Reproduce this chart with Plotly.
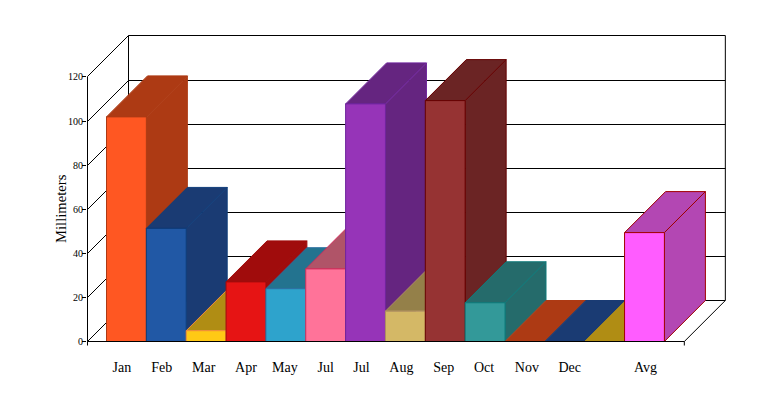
import plotly.graph_objects as go

# ---- data
categories = ["Jan", "Feb", "Mar", "Apr", "May", "Jul", "Jul", "Aug", "Sep", "Oct", "Nov", "Dec", "", "Avg"]
rainfall = [102.1, 51.4, 4.9, 27.1, 24.0, 33.0, 108.0, 13.8, 109.5, 17.6, 0, 0, 0, 49.5]
y_ticks = [0, 20, 40, 60, 80, 100, 120]
y_title = "Millimeters"

# ---- colours: front, top/side, outline
front_colors = ["#FF5722", "#2158A5", "#FFC915", "#E61414", "#2EA3CC", "#FF7399", "#9634B8", "#D4B866", "#963333", "#339999",
                "#FF5722", "#2158A5", "#FFC915", "#FF5CFF"]
top_colors = ["#AD3A14", "#1A3B73", "#B08D14", "#A00C0C", "#23738F", "#B05468", "#652580", "#948049", "#6B2424", "#256B6B",
              "#AD3A14", "#1A3B73", "#B08D14", "#B347B3"]
edge_colors = ["#AD3A14", "#0F3D7A", "#F08C3C", "#A00C0C", "#2D6FA0", "#D0305C", "#6F259C", "#B09060", "#660000", "#0F7A7A",
               "#AD3A14", "#1A3B73", "#B08D14", "#A00000"]

# ---- geometry (the page body adds an 8px margin around the figure)
PAGE_MARGIN = 8
FIG_W, FIG_H = 775 - PAGE_MARGIN, 395 - PAGE_MARGIN
PX_X = 39.85        # pixels per category slot
PX_Y = 2.2          # pixels per millimetre
DEPTH_PX = 41
DX = DEPTH_PX / PX_X
DY = DEPTH_PX / PX_Y
PLOT_L, PLOT_R, PLOT_T, PLOT_B = 79, 722, 22, 342
BASE_Y = 333.5
X0 = -0.5 - 19.5 / PX_X
X1 = X0 + (PLOT_R - PLOT_L) / PX_X
Y1 = (BASE_Y - PLOT_T) / PX_Y
Y0 = (BASE_Y - PLOT_B) / PX_Y
AXIS_L = -0.5 - 19.0 / PX_X
AXIS_R = 14.0
AXIS_T = 120.45

LABEL_NUDGE_PX = [-4.5, -4.5, -2.5, 0, -1, 0, -4, -4, -1.5, -1, 2, 5, 0, 1]

fig = go.Figure()


def line(xs, ys, width=1):
    fig.add_trace(go.Scatter(x=xs, y=ys, mode="lines", line=dict(color="black", width=width),
                             hoverinfo="skip", showlegend=False))


def poly(xs, ys, fill, edge):
    fig.add_trace(go.Scatter(x=xs + xs[:1], y=ys + ys[:1], mode="lines", fill="toself", fillcolor=fill,
                             line=dict(color=edge, width=1), hoverinfo="skip", showlegend=False))


# back wall, floor and left wall
line([AXIS_L + DX, AXIS_R + DX, AXIS_R + DX, AXIS_L + DX, AXIS_L + DX],
     [AXIS_T + DY, AXIS_T + DY, DY, DY, AXIS_T + DY])
for t in y_ticks[1:-1]:
    line([AXIS_L, AXIS_L + DX, AXIS_R + DX], [t, t + DY, t + DY])
line([AXIS_L, AXIS_L + DX], [AXIS_T, AXIS_T + DY])
line([AXIS_L, AXIS_L + DX], [0, DY])
line([AXIS_R, AXIS_R + DX], [0, DY])

# bars, painted left to right
for i, v in enumerate(rainfall):
    l, r = i - 0.5, i + 0.5
    poly([l, r, r + DX, l + DX], [v, v, v + DY, v + DY], top_colors[i], edge_colors[i])
    if v > 0:
        poly([r, r + DX, r + DX, r], [0, DY, v + DY, v], top_colors[i], edge_colors[i])
        poly([l, r, r, l], [0, 0, v, v], front_colors[i], edge_colors[i])

# front axes drawn over the bars
line([AXIS_L, AXIS_L], [0, AXIS_T])
line([AXIS_L, AXIS_R], [0, 0])
line([AXIS_L, AXIS_L], [0, -4 / PX_Y])
line([AXIS_R, AXIS_R], [0, -4 / PX_Y])

x_vals = [i + LABEL_NUDGE_PX[i] / PX_X for i, c in enumerate(categories) if c]
x_text = [c for c in categories if c]
y_vals = y_ticks[:-1] + [AXIS_T]

fig.update_layout(
    width=FIG_W, height=FIG_H,
    margin=dict(l=PLOT_L, r=FIG_W - PLOT_R, t=PLOT_T, b=FIG_H - PLOT_B, pad=0),
    paper_bgcolor="white", plot_bgcolor="white",
    font=dict(family="Liberation Serif", color="black"),
    showlegend=False,
    xaxis=dict(range=[X0, X1], showgrid=False, zeroline=False, showline=False,
               tickmode="array", tickvals=x_vals, ticktext=x_text,
               ticks="outside", ticklen=4, tickcolor="rgba(0,0,0,0)",
               tickfont=dict(size=14, family="Liberation Serif", color="black")),
    yaxis=dict(range=[Y0, Y1], showgrid=False, zeroline=False, showline=False,
               tickmode="array", tickvals=y_vals, ticktext=[str(t) for t in y_ticks],
               ticks="outside", ticklen=4, tickcolor="black", tickwidth=1, ticklabelstandoff=-3,
               tickfont=dict(size=10, family="Liberation Serif", color="black")),
    annotations=[dict(text=y_title, textangle=-90, xref="paper", yref="y", x=-26 / (PLOT_R - PLOT_L),
                      y=(BASE_Y - 201) / PX_Y, showarrow=False, xanchor="center", yanchor="middle",
                      font=dict(size=14.67, family="Liberation Serif", color="black"))],
)

fig.write_html("out.html", config=dict(displayModeBar=False))
